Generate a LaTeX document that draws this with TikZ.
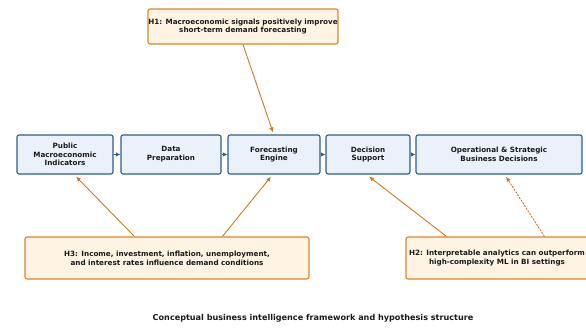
\documentclass[tikz,border=0pt]{standalone}
\usepackage{fontspec}
\setmainfont{DejaVu Sans}
\usetikzlibrary{arrows.meta,calc}
\definecolor{bfill}{HTML}{E9F1FB}
\definecolor{bdraw}{HTML}{2F5C8C}
\definecolor{ofill}{HTML}{FFF3E4}
\definecolor{odraw}{HTML}{D9862A}
\definecolor{oarrow}{HTML}{D07A1C}
\definecolor{txt}{HTML}{1A1A1A}
\tikzset{
  bluebox/.style={draw=bdraw, fill=bfill, line width=1.1pt, rounded corners=2pt, minimum height=39pt, align=center, font=\fontsize{7.2}{8.8}\selectfont\bfseries, text=txt, inner sep=0pt},
  hypbox/.style={draw=odraw, fill=ofill, line width=1.1pt, rounded corners=2pt, align=center, font=\fontsize{7.2}{8.8}\selectfont\bfseries, text=txt, inner sep=0pt},
  flow/.style={draw=bdraw, line width=0.9pt, -{Latex[length=4.5pt,width=4.5pt]}},
  hyparrow/.style={draw=oarrow, line width=0.9pt, -{Latex[length=5pt,width=4.5pt]}},
  hypdash/.style={hyparrow, dash pattern=on 2pt off 1.2pt}
}
\begin{document}
\begin{tikzpicture}[x=1pt,y=-1pt]
\useasboundingbox (0,0) rectangle (586,327);
\node[bluebox, minimum width=96pt] (pub) at (65,154.5) {Public\\Macroeconomic\\Indicators};
\node[bluebox, minimum width=100pt] (prep) at (171,154.5) {Data\\Preparation};
\node[bluebox, minimum width=92pt] (eng) at (274,154.5) {Forecasting\\Engine};
\node[bluebox, minimum width=84pt] (dec) at (368,154.5) {Decision\\Support};
\node[bluebox, minimum width=166pt] (ops) at (499,154.5) {Operational \& Strategic\\Business Decisions};
\node[hypbox, minimum width=190pt, minimum height=35pt] (h1) at (243,26.5) {H1: Macroeconomic signals positively improve\\short-term demand forecasting};
\node[hypbox, minimum width=284pt, minimum height=42pt] (h3) at (167,258) {H3: Income, investment, inflation, unemployment,\\and interest rates influence demand conditions};
\node[hypbox, minimum width=182pt, minimum height=42pt] (h2) at (497,258) {H2: Interpretable analytics can outperform\\high-complexity ML in BI settings};
\node[font=\fontsize{8.1}{9.5}\selectfont\bfseries, text=txt] (cap) at (313,318) {Conceptual business intelligence framework and hypothesis structure};
\draw[flow] (pub) -- (prep);
\draw[flow] (prep) -- (eng);
\draw[flow] (eng) -- (dec);
\draw[flow] (dec) -- (ops);
\draw[hyparrow] (h1.south) -- ([xshift=-1pt,yshift=2pt]eng.north);
\draw[hyparrow] ([xshift=110pt]h3.north west) -- ([xshift=11pt,yshift=-2pt]pub.south);
\draw[hyparrow] ([xshift=198pt]h3.north west) -- ([xshift=-3pt,yshift=-2pt]eng.south);
\draw[hyparrow] ([xshift=41pt]h2.north west) -- ([xshift=1pt,yshift=-2pt]dec.south);
\draw[hypdash] ([xshift=139pt]h2.north west) -- ([xshift=7pt,yshift=-2pt]ops.south);
\end{tikzpicture}
\end{document}
